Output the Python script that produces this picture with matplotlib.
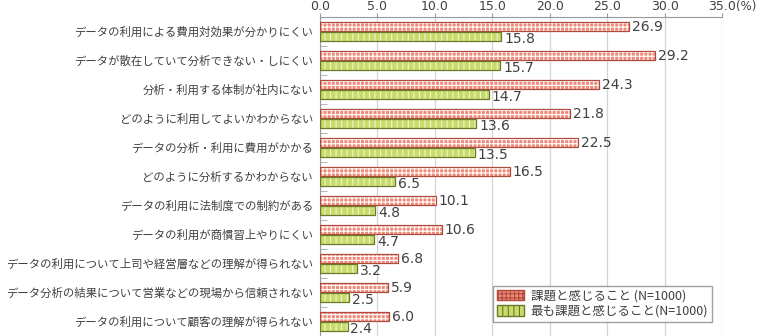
import matplotlib.pyplot as plt
import matplotlib.patches as mpatches
import numpy as np

plt.rcParams['font.family'] = ['Noto Sans CJK JP', 'DejaVu Sans']
plt.rcParams['hatch.linewidth'] = 0.8

# Data
categories = [
    "データの利用による費用対効果が分かりにくい",
    "データが散在していて分析できない・しにくい",
    "分析・利用する体制が社内にない",
    "どのように利用してよいかわからない",
    "データの分析・利用に費用がかかる",
    "どのように分析するかわからない",
    "データの利用に法制度での制約がある",
    "データの利用が商慣習上やりにくい",
    "データの利用について上司や経営層などの理解が得られない",
    "データ分析の結果について営業などの現場から信頼されない",
    "データの利用について顧客の理解が得られない",
]
issue_vals = [26.9, 29.2, 24.3, 21.8, 22.5, 16.5, 10.1, 10.6, 6.8, 5.9, 6.0]
top_issue_vals = [15.8, 15.7, 14.7, 13.6, 13.5, 6.5, 4.8, 4.7, 3.2, 2.5, 2.4]
series_names = ["課題と感じること (N=1000)", "最も課題と感じること(N=1000)"]
xticks = [0, 5, 10, 15, 20, 25, 30, 35]

red_face, red_edge = "#f08a78", "#b04a3c"
grn_face, grn_edge = "#c8dc6c", "#6a7a2a"
text_col = "#404040"

fig = plt.figure(figsize=(7.59, 3.36), dpi=100)
ax = fig.add_axes([320 / 759, 0, 402 / 759, 1 - 17 / 336])

y = np.arange(len(categories))
h = 0.31
off = 0.17

# fill + white hatch, then outline on top
ax.barh(y - off, issue_vals, height=h, color=red_face, edgecolor="white",
        hatch="++++", linewidth=0, zorder=2)
ax.barh(y - off, issue_vals, height=h, facecolor="none", edgecolor=red_edge,
        linewidth=0.9, zorder=3)
ax.barh(y + off, top_issue_vals, height=h, color=grn_face, edgecolor="#eef5c8",
        hatch="|||", linewidth=0, zorder=2)
ax.barh(y + off, top_issue_vals, height=h, facecolor="none", edgecolor=grn_edge,
        linewidth=0.9, zorder=3)

for i in range(len(categories)):
    ax.text(issue_vals[i] + 0.25, y[i] - off, f"{issue_vals[i]:.1f}",
            va="center", ha="left", fontsize=10, color=text_col,
            family="DejaVu Sans")
    ax.text(top_issue_vals[i] + 0.25, y[i] + off + 0.08, f"{top_issue_vals[i]:.1f}",
            va="center", ha="left", fontsize=10, color=text_col,
            family="DejaVu Sans")

ax.set_ylim(len(categories) - 0.5, -0.5)
ax.set_xlim(0, 35)
ax.set_yticks(y)
ax.set_yticklabels(categories, fontsize=8.2, color=text_col)
ax.set_yticks(np.arange(len(categories)) + 0.5, minor=True)
ax.tick_params(axis="y", which="major", length=0, pad=5)
ax.tick_params(axis="y", which="minor", length=5, direction="in", color="#aaaaaa")

ax.xaxis.tick_top()
ax.set_xticks(xticks)
ax.set_xticklabels([f"{v:.1f}" for v in xticks], fontsize=9, color=text_col,
                   family="DejaVu Sans")
ax.tick_params(axis="x", length=3, color="#999999", pad=0)
ax.annotate("(%)", xy=(1.0, 1.0), xycoords="axes fraction", xytext=(10, 3),
            textcoords="offset points", ha="left", va="bottom",
            fontsize=8.5, color=text_col, family="DejaVu Sans")

ax.grid(axis="x", color="#d4d4d4", linewidth=0.9, zorder=0)
ax.set_axisbelow(True)
for s in ["right", "bottom"]:
    ax.spines[s].set_visible(False)
ax.spines["left"].set_color("#999999")
ax.spines["top"].set_color("#999999")

handles = [
    mpatches.Patch(facecolor=red_face, edgecolor=red_edge, hatch="++++", label=series_names[0]),
    mpatches.Patch(facecolor=grn_face, edgecolor=grn_edge, hatch="|||", label=series_names[1]),
]
leg = ax.legend(handles=handles, loc="lower right", bbox_to_anchor=(0.975, 0.045),
                fontsize=9, frameon=True, fancybox=False, edgecolor="#888888",
                handlelength=2.2, handleheight=0.9, borderpad=0.3, labelspacing=0.2,
                handletextpad=0.5, borderaxespad=0)
for t in leg.get_texts():
    t.set_color(text_col)

plt.savefig("out.png", dpi=100)
